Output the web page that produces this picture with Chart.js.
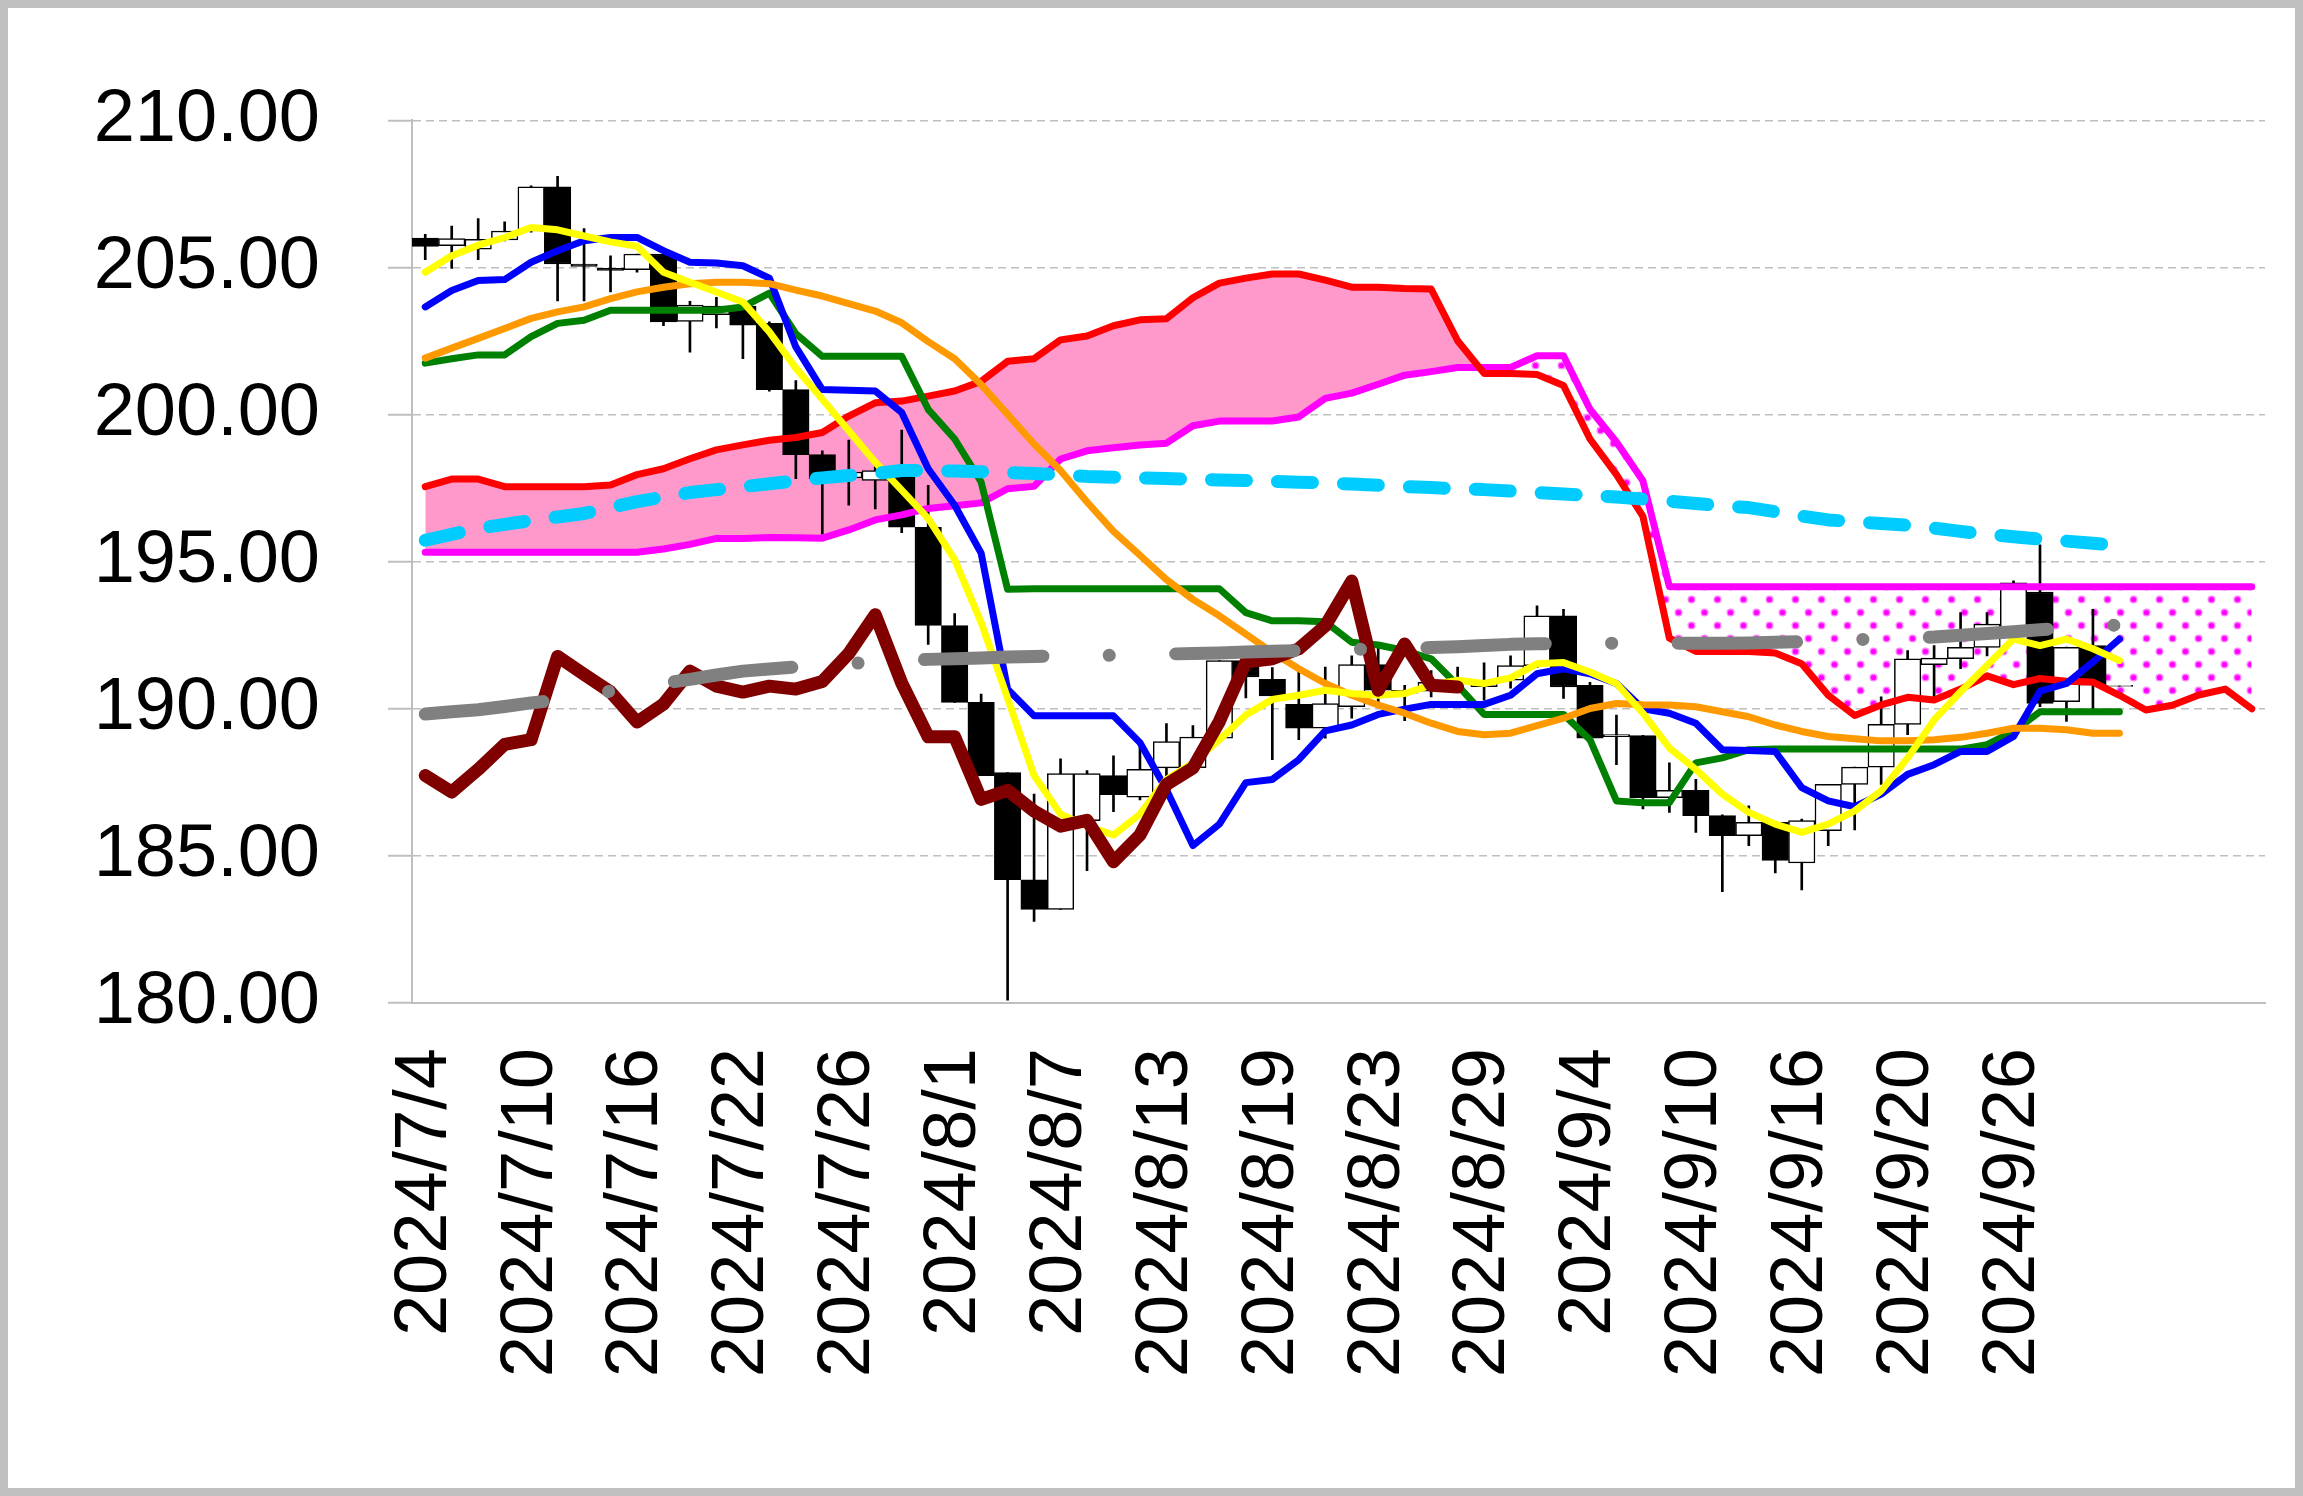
<!DOCTYPE html>
<html>
<head>
<meta charset="utf-8">
<title>Ichimoku chart</title>
<script src="https://cdn.jsdelivr.net/npm/chart.js@4.4.1/dist/chart.umd.min.js"></script>
<style>
  html, body { margin: 0; padding: 0; background: #fff; }
  #frame { width: 2303px; height: 1496px; box-sizing: border-box; border: 8px solid #c0c0c0; background: #fff; }
  canvas { display: block; }
</style>
</head>
<body>
<div id="frame"><canvas id="myChart" width="2287" height="1480"></canvas></div>
<script>
// categories: trading days, labels after 9/26 left blank like the source sheet
const dates = ['2024/7/4', '2024/7/5', '2024/7/8', '2024/7/9', '2024/7/10', '2024/7/11', '2024/7/12', '2024/7/15',
  '2024/7/16', '2024/7/17', '2024/7/18', '2024/7/19', '2024/7/22', '2024/7/23', '2024/7/24', '2024/7/25',
  '2024/7/26', '2024/7/29', '2024/7/30', '2024/7/31', '2024/8/1', '2024/8/2', '2024/8/5', '2024/8/6',
  '2024/8/7', '2024/8/8', '2024/8/9', '2024/8/12', '2024/8/13', '2024/8/14', '2024/8/15', '2024/8/16',
  '2024/8/19', '2024/8/20', '2024/8/21', '2024/8/22', '2024/8/23', '2024/8/26', '2024/8/27', '2024/8/28',
  '2024/8/29', '2024/8/30', '2024/9/2', '2024/9/3', '2024/9/4', '2024/9/5', '2024/9/6', '2024/9/9',
  '2024/9/10', '2024/9/11', '2024/9/12', '2024/9/13', '2024/9/16', '2024/9/17', '2024/9/18', '2024/9/19',
  '2024/9/20', '2024/9/23', '2024/9/24', '2024/9/25', '2024/9/26', '', '', '', '', '', '', '', '', ''];

// candles
const opens = [206.00, 205.74, 205.62, 205.94, 206.24, 207.74, 205.12, 204.97, 204.93, 205.46,
  203.17, 203.40, 203.69, 203.10, 200.85, 198.64, 197.85, 197.76, 197.88, 196.17,
  192.83, 190.22, 187.83, 184.19, 183.18, 186.20, 187.73, 187.00, 187.99, 188.00,
  189.00, 191.64, 191.00, 190.15, 189.34, 190.07, 191.50, 190.53, 190.60, 190.85,
  190.75, 190.97, 191.47, 193.16, 190.80, 189.05, 189.09, 186.98, 187.23, 186.37,
  185.69, 186.14, 184.76, 185.86, 187.43, 188.02, 189.47, 191.50, 191.70, 192.09,
  192.60, 193.97, 190.24, 192.15, 190.76];
const highs = [206.13, 206.41, 206.66, 206.55, 207.78, 208.10, 206.32, 205.40, 205.46, 205.46,
  203.85, 203.99, 203.80, 203.15, 201.16, 198.77, 199.13, 198.44, 199.47, 197.60,
  193.24, 190.50, 187.83, 187.10, 188.30, 187.90, 188.40, 188.80, 189.50, 189.43,
  191.64, 191.70, 191.40, 191.42, 191.42, 191.80, 192.20, 190.80, 191.30, 191.42,
  191.56, 191.80, 193.50, 193.38, 190.90, 189.79, 189.10, 188.16, 187.60, 186.40,
  186.70, 186.15, 186.25, 187.43, 188.02, 190.41, 191.98, 192.15, 193.27, 193.27,
  194.35, 195.57, 192.10, 193.38, 190.80];
const lows = [205.27, 204.97, 205.27, 205.90, 206.20, 203.86, 203.86, 204.17, 204.84, 203.02,
  202.12, 202.95, 201.90, 200.80, 197.82, 195.94, 196.92, 196.79, 195.99, 192.19,
  190.22, 187.73, 180.10, 182.77, 183.18, 184.50, 186.50, 186.90, 187.50, 187.80,
  188.90, 190.37, 188.27, 188.95, 189.00, 189.68, 190.20, 189.60, 190.40, 190.80,
  190.29, 190.70, 191.40, 190.35, 189.00, 188.10, 186.60, 186.48, 185.80, 183.78,
  185.35, 184.42, 183.84, 185.35, 185.88, 187.43, 189.12, 190.41, 191.36, 191.80,
  192.50, 190.07, 189.57, 190.00, 190.76];
const closes = [205.72, 205.98, 205.96, 206.24, 207.74, 205.12, 205.04, 204.90, 205.46, 203.15,
  203.72, 203.69, 203.04, 200.85, 198.64, 197.82, 198.05, 198.10, 196.17, 192.83,
  190.22, 187.73, 184.19, 183.18, 187.80, 187.80, 187.08, 187.94, 188.89, 189.04,
  191.64, 191.08, 190.44, 189.34, 190.18, 191.50, 190.63, 190.63, 190.90, 190.95,
  190.90, 191.47, 193.16, 190.74, 189.00, 189.12, 186.98, 187.23, 186.37, 185.69,
  186.14, 184.85, 186.20, 187.43, 188.02, 189.47, 191.70, 191.72, 192.09, 192.88,
  194.28, 190.18, 192.09, 190.80, 190.80];

// ichimoku lines
const tenkan = [203.66, 204.22, 204.56, 204.59, 205.18, 205.57, 205.91, 206.02, 206.02, 205.57,
  205.18, 205.15, 205.06, 204.64, 202.30, 200.85, 200.83, 200.80, 200.07, 198.16,
  196.92, 195.29, 190.67, 189.76, 189.76, 189.76, 189.76, 188.85, 187.25, 185.35,
  186.08, 187.49, 187.60, 188.27, 189.25, 189.45, 189.81, 189.99, 190.15, 190.15,
  190.15, 190.46, 191.19, 191.36, 191.19, 190.86, 190.00, 189.85, 189.51, 188.61,
  188.58, 188.55, 187.32, 186.87, 186.67, 187.10, 187.77, 188.10, 188.55, 188.55,
  189.06, 190.60, 190.86, 191.59, 192.37];
const kijun = [201.75, 201.90, 202.03, 202.03, 202.65, 203.10, 203.21, 203.55, 203.55, 203.55,
  203.55, 203.55, 203.66, 204.13, 202.75, 201.98, 201.98, 201.98, 201.98, 200.18,
  199.17, 197.71, 194.06, 194.08, 194.08, 194.08, 194.08, 194.08, 194.08, 194.08,
  194.08, 193.27, 192.99, 192.99, 192.96, 192.26, 192.17, 191.98, 191.70, 190.80,
  189.81, 189.81, 189.81, 189.81, 188.95, 186.87, 186.81, 186.81, 188.16, 188.33,
  188.61, 188.63, 188.63, 188.63, 188.63, 188.63, 188.63, 188.63, 188.63, 188.78,
  189.23, 189.90, 189.90, 189.90, 189.90];
const spanA = [197.55, 197.81, 197.81, 197.55, 197.55, 197.55, 197.55, 197.61, 197.96, 198.16,
  198.50, 198.80, 198.97, 199.13, 199.22, 199.39, 199.95, 200.40, 200.46, 200.63,
  200.80, 201.13, 201.81, 201.90, 202.54, 202.67, 203.02, 203.22, 203.26, 203.97,
  204.47, 204.64, 204.78, 204.78, 204.57, 204.33, 204.33, 204.29, 204.27, 202.51,
  201.40, 201.40, 201.36, 200.99, 199.17, 197.96, 196.54, 192.40, 191.95, 191.95,
  191.95, 191.90, 191.53, 190.46, 189.77, 190.13, 190.39, 190.30, 190.67, 191.12,
  190.82, 191.03, 190.94, 190.91, 190.46, 189.96, 190.12, 190.47, 190.67, 190.00];
const spanB = [195.32, 195.32, 195.32, 195.32, 195.32, 195.32, 195.32, 195.32, 195.32, 195.43,
  195.59, 195.79, 195.79, 195.82, 195.81, 195.80, 196.08, 196.42, 196.59, 196.81,
  196.90, 197.00, 197.48, 197.56, 198.49, 198.77, 198.87, 198.97, 199.03, 199.62,
  199.78, 199.78, 199.78, 199.92, 200.55, 200.73, 201.03, 201.34, 201.46, 201.60,
  201.60, 201.60, 202.00, 202.00, 200.18, 199.07, 197.75, 194.15, 194.15, 194.15,
  194.15, 194.15, 194.15, 194.15, 194.15, 194.15, 194.15, 194.15, 194.15, 194.15,
  194.15, 194.15, 194.15, 194.15, 194.15, 194.15, 194.15, 194.15, 194.15, 194.15];
const chikou = [187.73, 187.17, 187.94, 188.79, 188.95, 191.78, 191.17, 190.57, 189.55, 190.16,
  191.28, 190.77, 190.57, 190.77, 190.67, 190.93, 191.88, 193.20, 190.87, 189.05,
  189.05, 186.92, 187.23, 186.52, 186.01, 186.21, 184.80, 185.71, 187.43, 187.99,
  189.57, 191.59, 191.70, 192.04, 192.82, 194.34, 190.63, 192.20, 190.80, 190.74];

// moving averages
const maShort = [204.84, 205.40, 205.76, 206.02, 206.36, 206.28, 206.07, 205.87, 205.72, 204.84,
  204.50, 204.17, 203.83, 202.81, 201.58, 200.52, 199.45, 198.38, 197.43, 196.47,
  195.07, 192.94, 190.36, 187.73, 186.42, 186.01, 185.71, 186.42, 187.60, 188.16,
  188.95, 189.79, 190.32, 190.46, 190.63, 190.52, 190.46, 190.52, 190.80, 190.97,
  190.86, 191.05, 191.53, 191.57, 191.25, 190.86, 189.85, 188.67, 187.94, 187.10,
  186.48, 186.08, 185.80, 186.08, 186.53, 187.21, 188.33, 189.62, 190.58, 191.47,
  192.37, 192.15, 192.37, 192.04, 191.64];
const maMid = [201.92, 202.26, 202.59, 202.93, 203.27, 203.49, 203.66, 203.94, 204.17, 204.33,
  204.45, 204.50, 204.50, 204.45, 204.23, 204.03, 203.77, 203.52, 203.12, 202.48,
  201.90, 201.02, 200.01, 199.00, 198.10, 197.03, 196.03, 195.22, 194.39, 193.72,
  193.16, 192.54, 191.92, 191.36, 190.86, 190.46, 190.13, 189.85, 189.51, 189.23,
  189.12, 189.17, 189.43, 189.68, 190.01, 190.18, 190.14, 190.13, 190.07, 189.90,
  189.73, 189.45, 189.23, 189.06, 188.98, 188.91, 188.91, 188.95, 189.03, 189.17,
  189.34, 189.34, 189.29, 189.17, 189.17];
const maLong = [195.73, 195.93, 196.13, 196.27, 196.40, 196.52, 196.64, 196.84, 197.04, 197.20,
  197.35, 197.45, 197.55, 197.65, 197.75, 197.85, 197.93, 198.00, 198.10, 198.10,
  198.08, 198.06, 198.03, 198.00, 197.95, 197.90, 197.87, 197.85, 197.83, 197.80,
  197.78, 197.76, 197.73, 197.70, 197.68, 197.64, 197.60, 197.55, 197.52, 197.48,
  197.45, 197.40, 197.35, 197.30, 197.25, 197.20, 197.13, 197.06, 196.98, 196.90,
  196.84, 196.70, 196.55, 196.42, 196.36, 196.30, 196.24, 196.14, 196.03, 195.93,
  195.85, 195.77, 195.70, 195.63, 195.55];
const maLonger = [189.82, 189.90, 189.97, 190.08, 190.20, 190.30, 190.45, 190.60, 190.74, 190.87,
  191.00, 191.15, 191.28, 191.35, 191.42, 191.48, 191.54, 191.58, 191.63, 191.68,
  191.70, 191.73, 191.76, 191.78, 191.80, 191.81, 191.82, 191.84, 191.86, 191.88,
  191.90, 191.93, 191.96, 191.98, 192.00, 192.02, 192.04, 192.06, 192.08, 192.11,
  192.15, 192.19, 192.21, 192.22, 192.23, 192.23, 192.23, 192.23, 192.23, 192.23,
  192.24, 192.26, 192.28, 192.31, 192.35, 192.38, 192.41, 192.44, 192.50, 192.56,
  192.62, 192.69, 192.74, 192.80, 192.85];

const yTicks = [180, 185, 190, 195, 200, 205, 210];

const FONT = "'Liberation Sans', Arial, sans-serif";

// dotted fill for the part of the cloud where span B is on top
function makeDotPattern(ctx) {
  const tile = document.createElement('canvas');
  tile.width = 26;
  tile.height = 26;
  const t = tile.getContext('2d');
  const dots = [[6.5, 6.5], [19.5, 19.5]];
  t.fillStyle = '#ff80ff';
  dots.forEach(([x, y]) => {
    t.beginPath();
    t.arc(x, y, 4, 0, Math.PI * 2);
    t.fill();
  });
  t.fillStyle = '#ff00ff';
  dots.forEach(([x, y]) => {
    t.beginPath();
    t.arc(x, y, 2.6, 0, Math.PI * 2);
    t.fill();
  });
  return ctx.createPattern(tile, 'repeat');
}

function makeLine(label, data, color, width, order, extra) {
  return Object.assign({
    type: 'line',
    label: label,
    data: data,
    borderColor: color,
    backgroundColor: color,
    borderWidth: width,
    pointRadius: 0,
    tension: 0,
    fill: false,
    borderJoinStyle: 'round',
    borderCapStyle: 'round',
    order: order
  }, extra || {});
}

function plotChart() {
  const canvas = document.getElementById('myChart');
  const ctx = canvas.getContext('2d');
  const dotPattern = makeDotPattern(ctx);

  const bodies = opens.map((o, i) => [o, closes[i]]);
  const wicks = lows.map((l, i) => [l, highs[i]]);
  const bodyColors = opens.map((o, i) => (closes[i] >= o ? '#ffffff' : '#000000'));

  const datasets = [
    // 0: cloud fill only
    makeLine('cloud', spanA, 'rgba(0,0,0,0)', 0, 100, {
      fill: { target: 1, above: '#ff99cc', below: dotPattern }
    }),
    // 1: span B
    makeLine('spanB', spanB, '#ff00ff', 7, 9),
    makeLine('spanA', spanA, '#ff0000', 7, 8),
    {
      type: 'bar',
      label: 'wick',
      data: wicks,
      backgroundColor: '#000000',
      borderWidth: 0,
      barThickness: 2,
      grouped: false,
      order: 60
    },
    {
      type: 'bar',
      label: 'body',
      data: bodies,
      backgroundColor: bodyColors,
      borderColor: '#000000',
      borderWidth: 1.5,
      borderSkipped: false,
      barPercentage: 1,
      categoryPercentage: 1,
      grouped: false,
      order: 50
    },
    makeLine('kijun', kijun, '#008000', 7, 7),
    makeLine('tenkan', tenkan, '#0000ff', 7, 6),
    makeLine('maMid', maMid, '#ff9900', 7, 5),
    makeLine('maShort', maShort, '#ffff00', 7, 4),
    makeLine('chikou', chikou, '#800000', 13, 3),
    makeLine('maLonger', maLonger, '#808080', 13, 2, { borderDash: [118.5, 66.3, 0.1, 66.4] }),
    makeLine('maLong', maLong, '#00ccff', 13, 1, { borderDash: [35, 31] })
  ];

  return new Chart(ctx, {
    type: 'bar',
    data: { labels: dates, datasets: datasets },
    options: {
      responsive: false,
      animation: false,
      devicePixelRatio: 1,
      events: [],
      layout: { padding: { left: 0, right: 30, top: 105, bottom: 0 } },
      plugins: {
        legend: { display: false },
        tooltip: { enabled: false }
      },
      scales: {
        x: {
          offset: true,
          grid: { display: false, drawTicks: false },
          border: { display: true, color: '#bfbfbf', width: 2 },
          ticks: {
            autoSkip: false,
            minRotation: 90,
            maxRotation: 90,
            padding: 45,
            color: '#000000',
            font: { family: FONT, size: 74 },
            callback: function (value, index) {
              return index % 4 === 0 ? this.getLabelForValue(value) : '';
            }
          },
          afterFit: (scale) => {
            scale.height = 485;
            scale.paddingLeft = 0;
            scale.paddingRight = 0;
          }
        },
        y: {
          min: yTicks[0],
          max: yTicks[yTicks.length - 1],
          afterBuildTicks: (scale) => { scale.ticks = yTicks.map((v) => ({ value: v })); },
          grid: {
            color: '#bfbfbf',
            lineWidth: 1.5,
            tickLength: 24,
            tickColor: '#bfbfbf',
            tickWidth: 2,
            tickBorderDash: [100, 0]
          },
          border: { display: true, color: '#bfbfbf', width: 2, dash: [8, 5] },
          ticks: {
            padding: 68,
            color: '#000000',
            font: { family: FONT, size: 74 },
            callback: (v) => Number(v).toFixed(2)
          },
          afterFit: (scale) => { scale.width = 404; }
        }
      }
    }
  });
}

document.addEventListener('DOMContentLoaded', () => plotChart());
</script>
</body>
</html>
